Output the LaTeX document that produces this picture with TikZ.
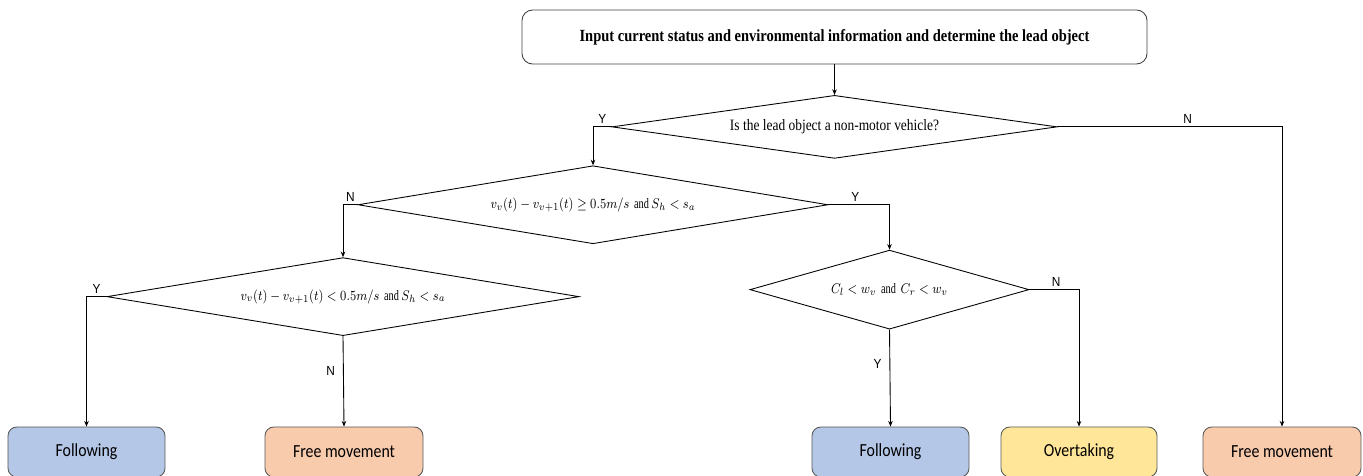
\documentclass[tikz,border=0pt]{standalone}
\usepackage{fontspec}
\setmainfont[FakeStretch=0.85]{Liberation Serif}
\newfontfamily\boxfont[FakeStretch=0.86]{Carlito}
\newfontfamily\ynfont[FakeStretch=0.9]{Liberation Sans}
\usetikzlibrary{positioning,shapes.geometric,arrows.meta}

\definecolor{followblue}{HTML}{B4C7E7}
\definecolor{freeorange}{HTML}{F8CBAD}
\definecolor{overyellow}{HTML}{FFE699}

\newcommand{\squeezed}[1]{\scalebox{0.84}[1]{\fontsize{8.2}{10}\selectfont #1}}

\tikzset{
	startbox/.style={draw=black!75, rounded corners=6pt, minimum width=12.5cm, minimum height=1.08cm, line width=0.5pt},
	decision/.style={draw, diamond, inner sep=0pt, line width=0.5pt, font=\fontsize{9}{10}\selectfont},
	outcome/.style={draw=black!65, rounded corners=5pt, minimum width=3.14cm, minimum height=1.0cm, line width=0.5pt, font=\boxfont\fontsize{10.5}{12}\selectfont},
	conn/.style={line width=0.5pt, -{Stealth[length=3.2pt,width=2.6pt]}},
	yn/.style={font=\ynfont\fontsize{7.5}{8}\selectfont, inner sep=1.5pt},
}

\begin{document}
\begin{tikzpicture}
	\useasboundingbox (0,0) rectangle (27.26,9.5);

	\node [startbox] (input) at (16.69,8.76) {\fontsize{9.7}{11}\selectfont\bfseries Input current status and environmental information and determine the lead object};
	\node [decision, aspect=7.06, minimum width=8.9cm, minimum height=1.26cm, below=0.61cm of input] (nonmotor) {Is the lead object a non-motor vehicle?};
	\node [decision, aspect=6.03, minimum width=9.4cm, minimum height=1.56cm, below=0.13cm of nonmotor, xshift=-4.83cm] (fast) {\squeezed{$v_v(t)-v_{v+1}(t)\geq 0.5m/s$\, and $S_h<s_a$}};
	\node [decision, aspect=6.05, minimum width=9.44cm, minimum height=1.56cm, below=0.26cm of fast, xshift=-5.0cm] (slow) {\squeezed{$v_v(t)-v_{v+1}(t)<0.5m/s$\, and $S_h<s_a$}};
	\node [decision, aspect=3.53, minimum width=5.58cm, minimum height=1.58cm, below=0.11cm of fast, xshift=5.93cm] (gap) {\squeezed{$C_l<w_v$\, and\, $C_r<w_v$}};

	\node [outcome, fill=followblue] (followa) at (1.73,0.46) {Following};
	\node [outcome, fill=freeorange, minimum width=3.16cm] (freea) at (6.88,0.46) {Free movement};
	\node [outcome, fill=followblue] (followb) at (17.81,0.46) {Following};
	\node [outcome, fill=overyellow, minimum width=3.12cm] (overtake) at (21.58,0.46) {Overtaking};
	\node [outcome, fill=freeorange, minimum width=3.16cm] (freeb) at (25.64,0.46) {Free movement};

	\draw [conn] (input) -- (nonmotor);
	\draw [conn] (nonmotor.west) -| node[yn, pos=0.25, above] {Y} (fast.north);
	\draw [conn] (nonmotor.east) -| node[yn, pos=0.29, above] {N} (freeb.north);
	\draw [conn] (fast.west) -| node[yn, pos=0.25, above] {N} (slow.north);
	\draw [conn] (fast.east) -| node[yn, pos=0.22, above] {Y} (gap.north);
	\draw [conn] (slow.west) -| node[yn, pos=0.25, above] {Y} (followa.north);
	\draw [conn] (slow.south) -- node[yn, pos=0.39, left=3pt] {N} (freea.north);
	\draw [conn] (gap.south) -- node[yn, pos=0.35, left=3pt] {Y} (followb.north);
	\draw [conn] (gap.east) -| node[yn, pos=0.27, above] {N} (overtake.north);

\end{tikzpicture}
\end{document}
